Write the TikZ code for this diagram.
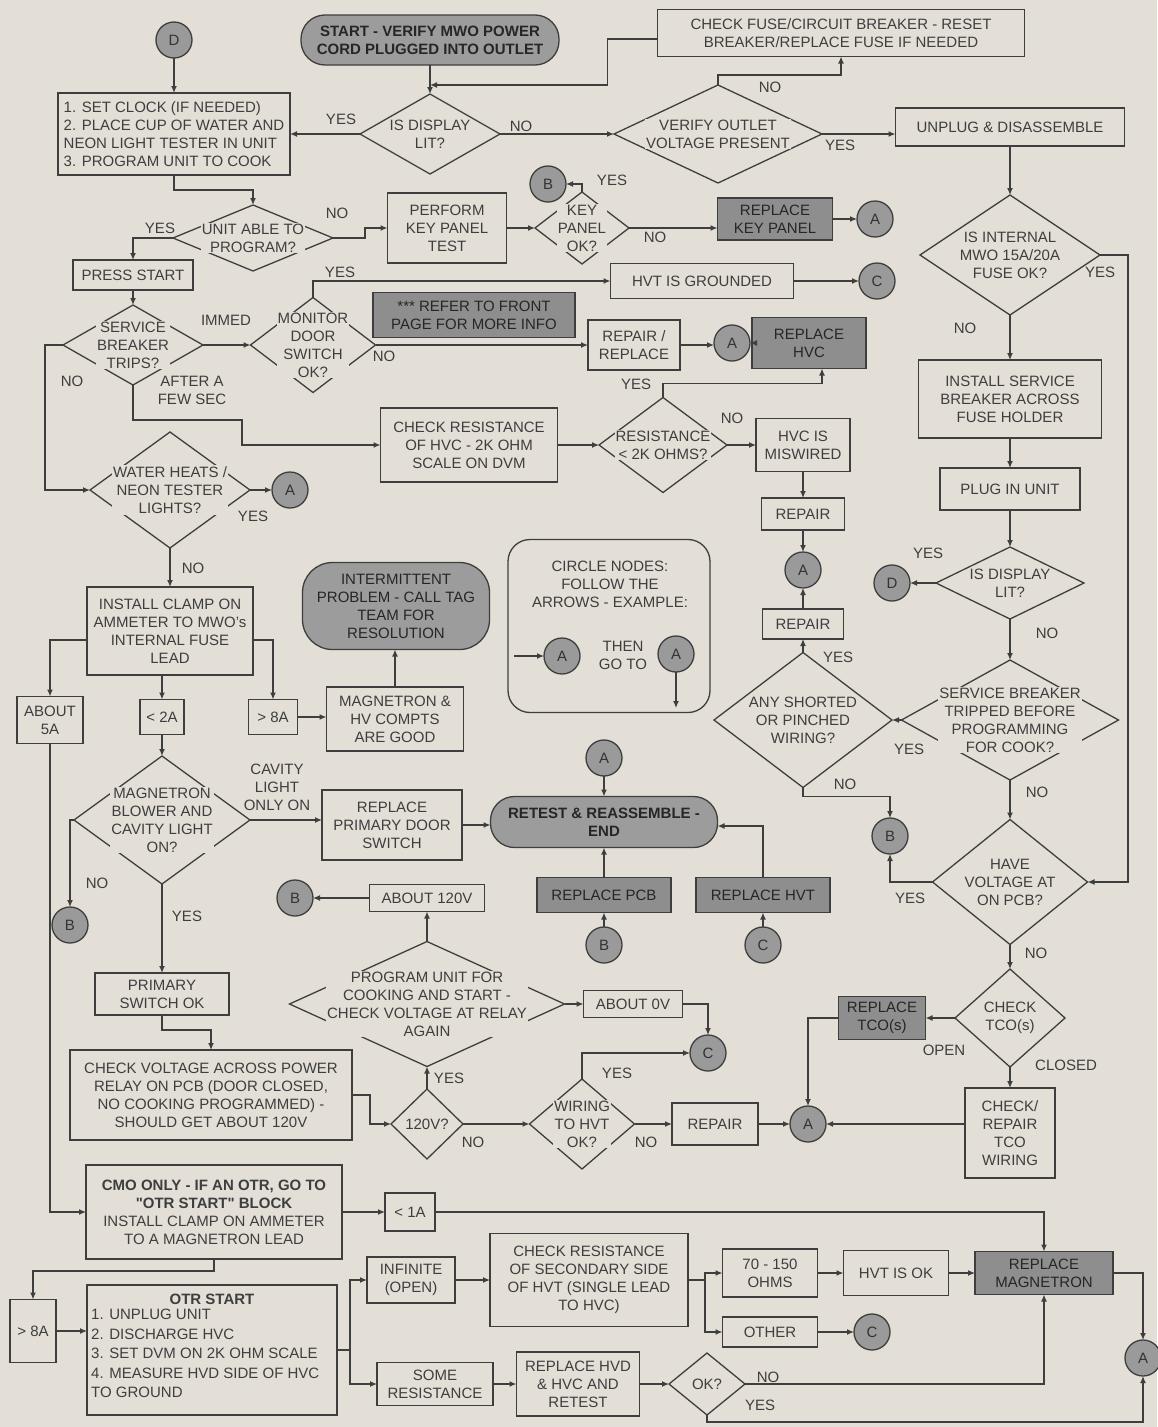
\documentclass[tikz,border=0pt]{standalone}
\usepackage{fontspec}
\setmainfont{Liberation Sans}
\usetikzlibrary{arrows.meta,shapes.geometric,calc}
\definecolor{paper}{HTML}{E3DFD7}
\definecolor{ink}{HTML}{3E3E3E}
\definecolor{gfill}{HTML}{8E8E8E}
\definecolor{tfill}{HTML}{9C9C9C}
\definecolor{cfill}{HTML}{9A9A9A}
\newcommand\myfs{\fontsize{15}{18}\selectfont}
\begin{document}
\begin{tikzpicture}[x=1pt,y=-1pt,
  sz/.style 2 args={minimum width=#1pt, minimum height=#2pt},
  box/.style={draw=ink, line width=1.3pt, rectangle, align=center, inner sep=1pt, outer sep=0pt, font=\myfs, text=ink},
  gbox/.style={box, fill=gfill, text=black!85},
  term/.style={box, fill=tfill, text=black!85, rounded corners=24pt},
  circ/.style={circle, draw=ink, line width=1.3pt, fill=cfill, minimum size=36pt, inner sep=0pt, outer sep=0pt, font=\myfs, text=black!80},
  dia/.style={diamond, draw=ink, line width=1.3pt, inner sep=0pt, outer sep=0pt},
  dt/.style={align=center, inner sep=1pt, font=\myfs, text=ink, fill=paper},
  lbl/.style={align=center, inner sep=0pt, font=\myfs, text=ink},
  arr/.style={draw=ink, line width=1.3pt, -{Latex[length=7pt,width=6pt]}},
]
\fill[paper] (0,0) rectangle (1157,1427);
\path[use as bounding box] (0,0) rectangle (1157,1427);

% ---------- top ----------
\node[circ] (D1) at (174,40) {D};
\node[term, sz={258}{50}, font=\myfs\bfseries] (start) at (430,40) {START - VERIFY MWO POWER\\CORD PLUGGED INTO OUTLET};
\node[box, sz={367}{47}] (fuseb) at (841,33) {CHECK FUSE/CIRCUIT BREAKER - RESET\\BREAKER/REPLACE FUSE IF NEEDED};
\node[box, sz={232}{82}, align=left] (clock) at (174,134) {1. SET CLOCK (IF NEEDED)\\2. PLACE CUP OF WATER AND\\NEON LIGHT TESTER IN UNIT\\3. PROGRAM UNIT TO COOK};
\node[dia, sz={140}{80}] (disp1) at (430,134) {};
\node[dt] (disp1t) at (disp1) {IS DISPLAY\\LIT?};
\node[dia, sz={208}{98}] (verify) at (718,134) {};
\node[dt] (verifyt) at (verify) {VERIFY OUTLET\\VOLTAGE PRESENT};
\node[box, sz={229}{38}] (unplug) at (1010,127) {UNPLUG \& DISASSEMBLE};

% ---------- second band ----------
\node[dia, sz={160}{66}] (unit) at (253,238) {};
\node[dt] (unitt) at (unit) {UNIT ABLE TO\\PROGRAM?};
\node[box, sz={119}{70}] (perform) at (447,228) {PERFORM\\KEY PANEL\\TEST};
\node[dia, sz={94}{72}] (key) at (582,228) {};
\node[dt] (keyt) at (key) {KEY\\PANEL\\OK?};
\node[circ] (B1) at (548,184) {B};
\node[gbox, sz={115}{42}] (rkey) at (775,219) {REPLACE\\KEY PANEL};
\node[circ] (A1) at (875,219) {A};
\node[box, sz={120}{30}] (press) at (133,275) {PRESS START};
\node[dia, sz={140}{80}] (svc) at (133,345) {};
\node[dt] (svct) at (svc) {SERVICE\\BREAKER\\TRIPS?};
\node[dia, sz={125}{95}] (mon) at (313,345) {};
\node[dt] (mont) at (mon) {MONITOR\\DOOR\\SWITCH\\OK?};
\node[box, sz={183}{35}] (hvtg) at (702,281) {HVT IS GROUNDED};
\node[circ] (C1) at (877,281) {C};
\node[gbox, sz={202}{45}] (refer) at (474,315) {*** REFER TO FRONT\\PAGE FOR MORE INFO};
\node[box, sz={92}{50}] (rr) at (634,345) {REPAIR /\\REPLACE};
\node[circ] (A2) at (732,343) {A};
\node[gbox, sz={114}{51}] (rhvc) at (809,343) {REPLACE\\HVC};
\node[box, sz={177}{74}] (chkr) at (469,445) {CHECK RESISTANCE\\OF HVC - 2K OHM\\SCALE ON DVM};
\node[dia, sz={128}{95}] (res) at (663,445) {};
\node[dt] (rest) at (res) {RESISTANCE\\< 2K OHMS?};
\node[box, sz={94}{53}] (misw) at (803,445) {HVC IS\\MISWIRED};
\node[box, sz={83}{32}] (rep1) at (803,514) {REPAIR};
\node[circ] (A3) at (803,570) {A};
\node[box, sz={81}{30}] (rep2) at (803,624) {REPAIR};
\node[dia, sz={178}{135}] (any) at (803,720) {};
\node[dt] (anyt) at (any) {ANY SHORTED\\OR PINCHED\\WIRING?};
\node[dia, sz={160}{116}] (water) at (170,490) {};
\node[dt] (watert) at (water) {WATER HEATS /\\NEON TESTER\\LIGHTS?};
\node[circ] (A4) at (290,490) {A};
\node[box, sz={166}{88}] (clamp) at (170,631) {INSTALL CLAMP ON\\AMMETER TO MWO's\\INTERNAL FUSE\\LEAD};
\node[box, sz={66}{47}] (a5) at (50,720) {ABOUT\\5A};
\node[box, sz={44}{35}] (l2a) at (162,717) {< 2A};
\node[box, sz={49}{35}] (g8a) at (273,717) {> 8A};
\node[box, sz={137}{64}] (good) at (395,719) {MAGNETRON \&\\HV COMPTS\\ARE GOOD};
\node[term, sz={187}{87}, rounded corners=30pt] (inter) at (396,606) {INTERMITTENT\\PROBLEM - CALL TAG\\TEAM FOR\\RESOLUTION};

% legend
\node[draw=ink, line width=1.3pt, rounded corners=22pt, sz={202}{173}] (leg) at (609,626) {};
\node[lbl] (legt) at (610,584) {CIRCLE NODES:\\FOLLOW THE\\ARROWS - EXAMPLE:};
\node[circ] (legA1) at (562,656) {A};
\coordinate (legS) at (514,656);
\node[lbl] (legthen) at (623,655) {THEN\\GO TO};
\node[circ] (legA2) at (676,654) {A};
\coordinate (legE) at (676,708);

% ---------- right column ----------
\node[dia, sz={180}{120}] (fuse) at (1010,255) {};
\node[dt] (fuset) at (fuse) {IS INTERNAL\\MWO 15A/20A\\FUSE OK?};
\node[box, sz={183}{78}] (isb) at (1010,399) {INSTALL SERVICE\\BREAKER ACROSS\\FUSE HOLDER};
\node[box, sz={140}{42}] (plug) at (1010,489) {PLUG IN UNIT};
\node[dia, sz={148}{72}] (disp2) at (1010,583) {};
\node[dt] (disp2t) at (disp2) {IS DISPLAY\\LIT?};
\node[circ] (D2) at (892,583) {D};
\node[dia, sz={217}{120}] (trip) at (1010,720) {};
\node[dt] (tript) at (trip) {SERVICE BREAKER\\TRIPPED BEFORE\\PROGRAMMING\\FOR COOK?};
\node[circ] (B2) at (890,836) {B};
\node[dia, sz={155}{125}] (hv) at (1010,882) {};
\node[dt] (hvt) at (hv) {HAVE\\VOLTAGE AT\\ON PCB?};
\node[dia, sz={110}{98}] (tco) at (1010,1018) {};
\node[dt] (tcot) at (tco) {CHECK\\TCO(s)};
\node[gbox, sz={87}{43}] (rtco) at (882,1018) {REPLACE\\TCO(s)};
\node[box, sz={90}{90}] (ctco) at (1010,1133) {CHECK/\\REPAIR\\TCO\\WIRING};
\node[circ] (A5) at (808,1124) {A};
\node[box, sz={86}{42}] (rep3) at (715,1124) {REPAIR};

% ---------- lower middle ----------
\node[dia, sz={176}{128}] (mag) at (162,820) {};
\node[dt] (magt) at (mag) {MAGNETRON\\BLOWER AND\\CAVITY LIGHT\\ON?};
\node[circ] (B3) at (70,925) {B};
\node[box, sz={134}{42}] (psw) at (162,994) {PRIMARY\\SWITCH OK};
\node[box, sz={140}{70}] (rpd) at (392,825) {REPLACE\\PRIMARY DOOR\\SWITCH};
\node[term, sz={227}{51}, font=\myfs\bfseries] (retest) at (604,822) {RETEST \& REASSEMBLE -\\END};
\node[circ] (A6) at (604,758) {A};
\node[gbox, sz={134}{35}] (rpcb) at (604,895) {REPLACE PCB};
\node[circ] (B4) at (604,945) {B};
\node[gbox, sz={134}{35}] (rhvt) at (763,895) {REPLACE HVT};
\node[circ] (C2) at (763,945) {C};
\node[circ] (B5) at (295,898) {B};
\node[box, sz={115}{27}] (a120) at (427,898) {ABOUT 120V};
\node[dia, sz={275}{125}] (prog) at (427,1004) {};
\node[dt] (progt) at (prog) {PROGRAM UNIT FOR\\COOKING AND START -\\CHECK VOLTAGE AT RELAY\\AGAIN};
\node[box, sz={99}{27}] (a0) at (633,1004) {ABOUT 0V};
\node[circ] (C3) at (708,1053) {C};
\node[box, sz={282}{90}] (chkv) at (211,1095) {CHECK VOLTAGE ACROSS POWER\\RELAY ON PCB (DOOR CLOSED,\\NO COOKING PROGRAMMED) -\\SHOULD GET ABOUT 120V};
\node[dia, sz={72}{70}] (v120) at (427,1124) {};
\node[dt] (v120t) at (v120) {120V?};
\node[dia, sz={105}{90}] (wir) at (582,1124) {};
\node[dt] (wirt) at (wir) {WIRING\\TO HVT\\OK?};

% ---------- bottom ----------
\node[box, sz={256}{94}] (cmo) at (214,1212) {\textbf{CMO ONLY - IF AN OTR, GO TO}\\\textbf{\textquotedbl OTR START\textquotedbl\ BLOCK}\\INSTALL CLAMP ON AMMETER\\TO A MAGNETRON LEAD};
\node[box, sz={50}{38}] (l1a) at (410,1212) {< 1A};
\node[box, sz={46}{63}] (g8a2) at (33,1331) {> 8A};
\node[box, sz={250}{130}] (otr) at (212,1350) {};
\node[lbl, font=\myfs\bfseries] (otrh) at (212,1299) {OTR START};
\node[lbl, align=left, anchor=north west, font=\fontsize{15}{19.5}\selectfont] (otrt) at (91,1309) {1. UNPLUG UNIT\\2. DISCHARGE HVC\\3. SET DVM ON 2K OHM SCALE\\4. MEASURE HVD SIDE OF HVC\\TO GROUND};
\node[box, sz={88}{46}] (inf) at (411,1280) {INFINITE\\(OPEN)};
\node[box, sz={116}{43}] (some) at (435,1384) {SOME\\RESISTANCE};
\node[box, sz={198}{93}] (sec) at (589,1280) {CHECK RESISTANCE\\OF SECONDARY SIDE\\OF HVT (SINGLE LEAD\\TO HVC)};
\node[box, sz={95}{48}] (r70) at (770,1273) {70 - 150\\OHMS};
\node[box, sz={95}{30}] (oth) at (770,1332) {OTHER};
\node[box, sz={105}{45}] (hvtok) at (896,1273) {HVT IS OK};
\node[gbox, sz={138}{43}] (rmag) at (1044,1273) {REPLACE\\MAGNETRON};
\node[circ] (C4) at (872,1332) {C};
\node[box, sz={123}{64}] (rhvd) at (578,1384) {REPLACE HVD\\\& HVC AND\\RETEST};
\node[dia, sz={76}{62}] (ok) at (707,1384) {};
\node[dt] (okt) at (ok) {OK?};
\node[circ] (A7) at (1143,1358) {A};

% ---------- connectors ----------
\coordinate (m1) at (430,85);
\draw[arr] (D1.south) -- (clock.north);
\draw[arr] (start.south) -- (disp1.north);
\draw[arr] ([yshift=-6pt]fuseb.west) -- ++(-50,0) |- (m1);
\draw[arr] (verify.north) -- ++(0,-10) -| (fuseb.south);
\draw[arr] (disp1.east) -- (verify.west);
\draw[arr] (verify.east) -- (verify.east -| unplug.west);
\draw[arr] (disp1.west) -- (disp1.west -| clock.east);
\draw[arr] (clock.south) -- ++(0,15) -| (unit.north);
\draw[arr] (unit.east) -- ++(32,0) |- (perform.west);
\draw[arr] (unit.west) -| (press.north);
\draw[arr] (press.south) -- (svc.north);
\draw[arr] (svc.east) -- (mon.west);
\draw[arr] (mon.north) |- (hvtg.west);
\draw[arr] (mon.east) -- (rr.west);
\draw[arr] (perform.east) -- (key.west);
\draw[arr] (key.north) |- (B1.east);
\draw[arr] (key.east) -- (key.east -| rkey.west);
\draw[arr] (rkey.east) -- (A1.west);
\draw[arr] (hvtg.east) -- (C1.west);
\draw[arr] (rr.east) -- (rr.east -| A2.west);
\draw[arr] (rhvc.west) -- (A2.east);
\draw[arr] (svc.south) |- (242,420) |- (chkr.west);
\draw[arr] (svc.west) -- ++(-18,0) |- (water.west);
\draw[arr] (water.east) -- (A4.west);
\draw[arr] (water.south) -- (clamp.north);
\draw[arr] (chkr.east) -- (res.west);
\draw[arr] (res.north) -- ++(0,-14) -| ([xshift=13pt]rhvc.south);
\draw[arr] (res.east) -- (misw.west);
\draw[arr] (misw.south) -- (rep1.north);
\draw[arr] (rep1.south) -- (A3.north);
\draw[arr] (rep2.north) -- (A3.south);
\draw[arr] (any.north) -- (rep2.south);
\draw[arr] (any.south) -- ++(0,9) -| (B2.north);
\draw[arr] (unplug.south) -- (fuse.north);
\draw[arr] (fuse.south) -- (isb.north);
\draw[arr] (fuse.east) -- ++(28,0) |- (hv.east);
\draw[arr] (isb.south) -- (plug.north);
\draw[arr] (plug.south) -- (disp2.north);
\draw[arr] (disp2.west) -- (D2.east);
\draw[arr] (disp2.south) -- (trip.north);
\draw[arr] (trip.west) -- (any.east);
\draw[arr] (trip.south) -- (hv.north);
\draw[arr] (hv.west) -| (B2.south);
\draw[arr] (hv.south) -- (tco.north);
\draw[arr] (tco.west) -- (rtco.east);
\draw[arr] (tco.south) -- (ctco.north);
\draw[arr] (ctco.west |- A5.east) -- (A5.east);
\draw[arr] (rtco.west) -| (A5.north);
\draw[arr] (rep3.east) -- (A5.west);
\draw[arr] ([yshift=-9pt]clamp.west) -| (a5.north);
\draw[arr] (clamp.south -| l2a.north) -- (l2a.north);
\draw[arr] ([yshift=-9pt]clamp.east) -| (g8a.north);
\draw[arr] (g8a.east) -- (g8a.east -| good.west);
\draw[arr] (good.north) -- (good.north |- inter.south);
\draw[arr] (l2a.south) -- (mag.north);
\draw[arr] (mag.west) -| (B3.north);
\draw[arr] (mag.south) -- (psw.north);
\draw[arr] (mag.east) -- (mag.east -| rpd.west);
\draw[arr] (rpd.east) -- (rpd.east -| retest.west);
\draw[arr] (A6.south) -- (retest.north);
\draw[arr] (rpcb.north) -- (retest.south);
\draw[arr] (B4.north) -- (rpcb.south);
\draw[arr] (rhvt.north) |- ([yshift=-4pt]retest.east);
\draw[arr] (C2.north) -- (rhvt.south);
\draw[arr] (a120.west) -- (B5.east);
\draw[arr] (prog.north) -- (a120.south);
\draw[arr] (prog.east) -- (a0.west);
\draw[arr] (a0.east) -| (C3.north);
\draw[arr] (psw.south) -- ++(0,15) -| (chkv.north);
\draw[arr] (chkv.east) -- ++(18,0) |- (v120.west);
\draw[arr] (v120.north) -- (prog.south);
\draw[arr] (v120.east) -- (wir.west);
\draw[arr] (wir.north) |- (C3.west);
\draw[arr] (wir.east) -- (rep3.west);
\draw[arr] (a5.south) |- (cmo.west);
\draw[arr] (cmo.east) -- (l1a.west);
\draw[arr] (l1a.east) -| (rmag.north);
\draw[arr] (cmo.south) -- ++(0,12) -| (g8a2.north);
\draw[arr] (g8a2.east) -- (g8a2.east -| otr.west);
\draw[arr] (otr.east) -- ++(13,0) |- (inf.west);
\draw[arr] (otr.east) -- ++(13,0) |- (some.west);
\draw[arr] (inf.east) -- (sec.west);
\draw[arr] (sec.east) -- ++(17,0) |- (r70.west);
\draw[arr] (sec.east) -- ++(17,0) |- (oth.west);
\draw[arr] (r70.east) -- (hvtok.west);
\draw[arr] (hvtok.east) -- (rmag.west);
\draw[arr] (oth.east) -- (C4.west);
\draw[arr] (some.east) -- (rhvd.west);
\draw[arr] (rhvd.east) -- (ok.west);
\draw[arr] (ok.east) -| (rmag.south);
\draw[arr] (ok.south) -- ++(0,7) -| (A7.south);
\draw[arr] (rmag.east) -| (A7.north);
\draw[arr] (legS) -- (legA1.west);
\draw[arr] (legA2.south) -- (legE);

% ---------- branch labels ----------
\node[lbl] (y1) at (341,119) {YES};
\node[lbl] (n1) at (521,126) {NO};
\node[lbl] (n2) at (770,87) {NO};
\node[lbl] (y2) at (840,145) {YES};
\node[lbl] (y3) at (160,228) {YES};
\node[lbl] (n3) at (337,213) {NO};
\node[lbl] (y4) at (612,180) {YES};
\node[lbl] (n4) at (655,237) {NO};
\node[lbl] (y5) at (340,272) {YES};
\node[lbl] (im) at (226,320) {IMMED};
\node[lbl] (n5) at (384,356) {NO};
\node[lbl] (n6) at (72,381) {NO};
\node[lbl] (af) at (192,390) {AFTER A\\FEW SEC};
\node[lbl] (y6) at (636,384) {YES};
\node[lbl] (n7) at (732,418) {NO};
\node[lbl] (y7) at (253,516) {YES};
\node[lbl] (n8) at (193,568) {NO};
\node[lbl] (y8) at (1100,272) {YES};
\node[lbl] (n9) at (965,328) {NO};
\node[lbl] (y9) at (928,553) {YES};
\node[lbl] (n10) at (1047,633) {NO};
\node[lbl] (y10) at (838,657) {YES};
\node[lbl] (y11) at (909,749) {YES};
\node[lbl] (n11) at (1037,792) {NO};
\node[lbl] (n12) at (845,784) {NO};
\node[lbl] (y12) at (910,898) {YES};
\node[lbl] (n13) at (1036,953) {NO};
\node[lbl] (op) at (944,1050) {OPEN};
\node[lbl] (cl) at (1066,1065) {CLOSED};
\node[lbl] (cav) at (277,787) {CAVITY\\LIGHT\\ONLY ON};
\node[lbl] (n14) at (97,883) {NO};
\node[lbl] (y13) at (187,916) {YES};
\node[lbl] (y14) at (449,1078) {YES};
\node[lbl] (n15) at (473,1142) {NO};
\node[lbl] (y15) at (617,1073) {YES};
\node[lbl] (n16) at (646,1142) {NO};
\node[lbl] (n17) at (768,1377) {NO};
\node[lbl] (y16) at (760,1405) {YES};
\end{tikzpicture}
\end{document}
